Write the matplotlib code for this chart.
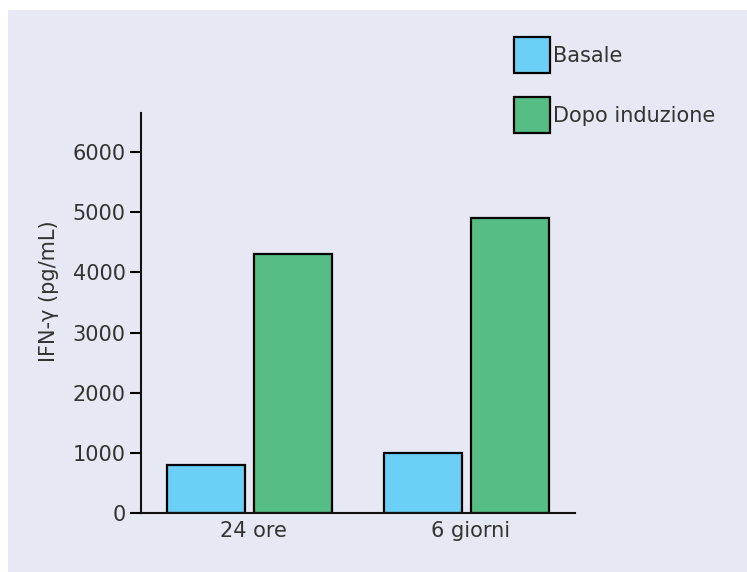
import matplotlib.pyplot as plt
import numpy as np

# data
groups = ["24 ore", "6 giorni"]
basale = [800, 1000]
dopo = [4300, 4900]
series_names = ["Basale", "Dopo induzione"]
yticks = [0, 1000, 2000, 3000, 4000, 5000, 6000]

col_basale = "#6bcff6"
col_dopo = "#56bd84"
panel_bg = "#e6e9f3"

fig = plt.figure(figsize=(7.47, 5.72), dpi=100)
fig.patch.set_facecolor("white")

# lavender panel behind everything
bg = fig.add_axes([8 / 747, 0, 1 - 8 / 747, 1 - 10 / 572], zorder=-1)
bg.set_facecolor(panel_bg)
bg.set_xticks([])
bg.set_yticks([])
for s in bg.spines.values():
    s.set_visible(False)

ax = fig.add_axes([141 / 747, 1 - 513 / 572, 434 / 747, 400 / 572])
ax.set_facecolor("none")

x = np.arange(len(groups))
w = 0.36
off = 0.2
b1 = ax.bar(x - off, basale, w, color=col_basale, edgecolor="black", linewidth=1.6,
            label=series_names[0])
b2 = ax.bar(x + off, dopo, w, color=col_dopo, edgecolor="black", linewidth=1.6,
            label=series_names[1])

ax.set_xlim(-0.5, 1.5)
ax.set_ylim(0, 6650)
ax.set_yticks(yticks)
ax.set_yticklabels([str(v) for v in yticks])
ax.set_xticks(x + 0.02)
ax.set_xticklabels(groups)

for s in ["top", "right"]:
    ax.spines[s].set_visible(False)
for s in ["left", "bottom"]:
    ax.spines[s].set_linewidth(1.5)
    ax.spines[s].set_color("#111111")

ax.tick_params(axis="y", length=8, width=1.5, pad=3, labelsize=15, labelcolor="#333333")
ax.tick_params(axis="x", length=0, pad=6, labelsize=15, labelcolor="#333333")

ax.set_ylabel("IFN-γ (pg/mL)", fontsize=15, color="#333333")
ax.yaxis.set_label_coords(-0.19, 0.555)

fig.legend(handles=[b1, b2], labels=series_names, loc="upper left",
           bbox_to_anchor=(514 / 747, 1 - 37 / 572), frameon=False,
           fontsize=15, handlelength=1.73, handleheight=2.29, borderpad=0,
           labelspacing=1.15, handletextpad=0.15, borderaxespad=0,
           labelcolor="#333333")

fig.savefig("out.png", dpi=100, facecolor=fig.get_facecolor())
